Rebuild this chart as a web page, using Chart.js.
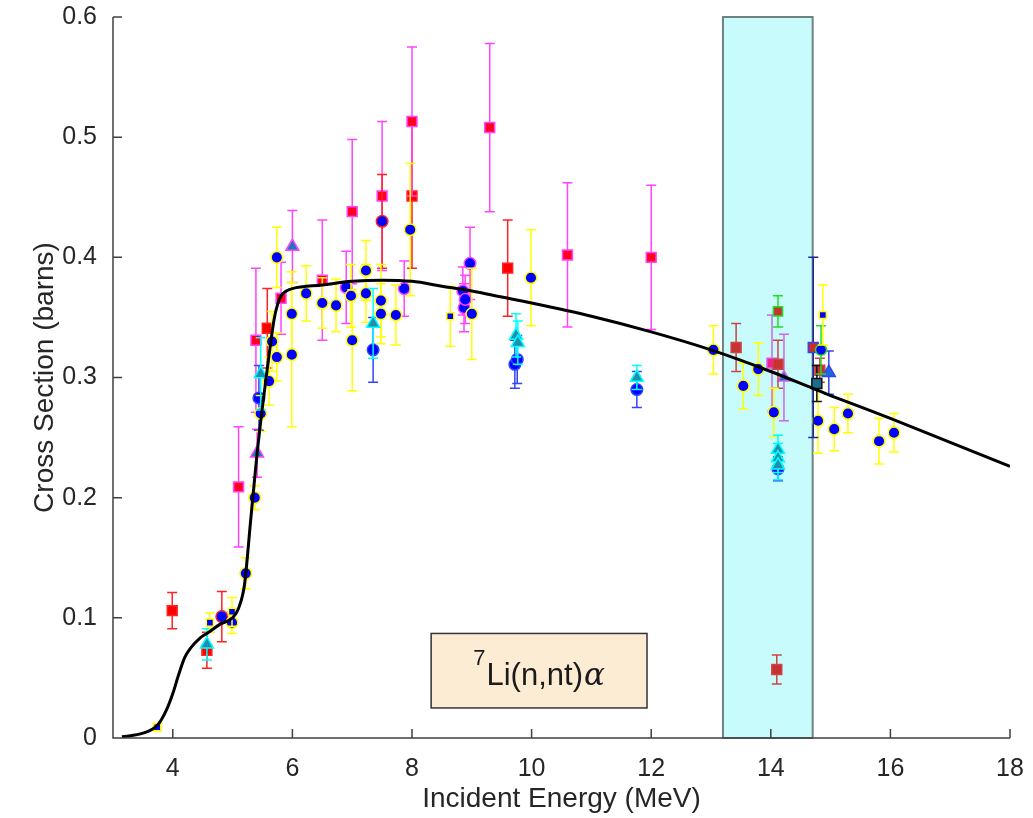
<!DOCTYPE html>
<html>
<head>
<meta charset="utf-8">
<script src="https://cdn.jsdelivr.net/npm/chart.js@4.4.1/dist/chart.umd.min.js"></script>
<style>
  html, body { margin: 0; padding: 0; background: #fff; }
  #wrap { width: 1033px; height: 818px; }
</style>
</head>
<body>
<div id="wrap"><canvas id="xsChart" width="1033" height="818"></canvas></div>
<script>
// axis ticks
const xTicks = [4, 6, 8, 10, 12, 14, 16, 18];
const yTicks = [0, 0.1, 0.2, 0.3, 0.4, 0.5, 0.6];
const bandRange = [13.2, 14.7];

// evaluated cross section (black curve)
const evalE = [3.15, 3.5, 3.75, 3.9, 4.0, 4.1, 4.2, 4.3, 4.45, 4.6, 4.8, 5.0, 5.1, 5.2, 5.3, 5.4, 5.5, 5.6, 5.7, 5.8, 5.9, 6.0, 6.5, 7.0, 7.5, 8.0, 8.5, 9.0, 9.5, 10, 11, 12, 13, 14, 14.7, 15, 16, 17, 18];
const evalXS = [0.001, 0.004, 0.011, 0.024, 0.037, 0.053, 0.067, 0.075, 0.083, 0.088, 0.095, 0.100, 0.108, 0.128, 0.180, 0.232, 0.276, 0.315, 0.350, 0.367, 0.372, 0.374, 0.377, 0.380, 0.381, 0.380, 0.376, 0.372, 0.367, 0.362, 0.351, 0.338, 0.323, 0.305, 0.291, 0.285, 0.266, 0.246, 0.226];

// measurements: energy, cross section, error half width
const redSqE = [3.99, 4.57, 5.58, 8.0, 9.6];
const redSqY = [0.106, 0.073, 0.341, 0.451, 0.391];
const redSqErr = [0.015, 0.015, 0.033, 0.06, 0.04];

const redCircE = [4.82, 7.5];
const redCircY = [0.101, 0.430];
const redCircErr = [0.021, 0.039];

const magSqE = [5.1, 5.39, 5.81, 6.5, 7.0, 7.5, 8.0, 9.3, 10.6, 12.0];
const magSqY = [0.209, 0.331, 0.366, 0.381, 0.438, 0.451, 0.513, 0.508, 0.402, 0.400];
const magSqErr = [0.05, 0.06, 0.03, 0.05, 0.06, 0.062, 0.062, 0.07, 0.06, 0.06];

const magCircE = [6.9, 7.87, 8.85, 8.87, 8.89, 8.97];
const magCircY = [0.375, 0.374, 0.372, 0.358, 0.365, 0.395];
const magCircErr = [0.03, 0.023, 0.02, 0.02, 0.02, 0.03];

const magTriE = [5.41, 6.0];
const magTriY = [0.237, 0.409];
const magTriErr = [0.02, 0.03];

const yelCircE = [4.99, 5.22, 5.37, 5.47, 5.61, 5.66, 5.74, 5.74, 5.99, 5.99, 6.23, 6.5, 6.73, 6.98, 7.0, 7.23, 7.23, 7.48, 7.48, 7.73, 7.97, 9.0, 9.99, 13.04, 13.54, 13.79, 14.05, 14.79, 15.06, 15.29, 15.81, 16.06];
const yelCircY = [0.096, 0.137, 0.200, 0.270, 0.297, 0.330, 0.317, 0.400, 0.353, 0.319, 0.370, 0.362, 0.360, 0.368, 0.331, 0.389, 0.370, 0.364, 0.353, 0.352, 0.423, 0.353, 0.383, 0.323, 0.293, 0.307, 0.271, 0.264, 0.257, 0.270, 0.247, 0.254];
const yelCircErr = [0.009, 0.013, 0.010, 0.015, 0.020, 0.025, 0.020, 0.025, 0.035, 0.060, 0.023, 0.021, 0.022, 0.026, 0.042, 0.025, 0.024, 0.030, 0.025, 0.025, 0.055, 0.038, 0.040, 0.020, 0.019, 0.022, 0.020, 0.027, 0.018, 0.016, 0.019, 0.016];

const yelSqE = [3.74, 4.62, 4.99, 8.64, 14.87];
const yelSqY = [0.009, 0.096, 0.105, 0.351, 0.352];
const yelSqErr = [0.003, 0.008, 0.012, 0.025, 0.025];

const cyanTriE = [4.57, 5.47, 7.35, 9.74, 9.77, 11.76, 14.12, 14.12, 14.12];
const cyanTriY = [0.078, 0.303, 0.345, 0.335, 0.329, 0.300, 0.240, 0.233, 0.227];
const cyanTriErr = [0.013, 0.03, 0.029, 0.018, 0.018, 0.01, 0.012, 0.012, 0.012];

const bluCircE = [5.44, 7.35, 9.72, 9.76, 11.76, 14.12];
const bluCircY = [0.283, 0.323, 0.311, 0.315, 0.290, 0.224];
const bluCircErr = [0.027, 0.027, 0.02, 0.02, 0.015, 0.01];

const brickSqE = [13.42, 14.12, 14.1, 14.82];
const brickSqY = [0.325, 0.311, 0.057, 0.306];
const brickSqErr = [0.02, 0.02, 0.012, 0.01];

const greenSqE = [14.12];
const greenSqY = [0.355];
const greenSqErr = [0.013];

const greenCircE = [14.84];
const greenCircY = [0.323];
const greenCircErr = [0.02];

const lilacSqE = [14.02];
const lilacSqY = [0.312];
const lilacSqErr = [0.04];

const lilacTriE = [14.22];
const lilacTriY = [0.300];
const lilacTriErr = [0.036];

const navySqE = [14.71];
const navySqY = [0.325];
const navySqErr = [0.075];

const blackSqE = [14.77];
const blackSqY = [0.295];
const blackSqErr = [0.015];

const bluTriE = [14.97];
const bluTriY = [0.304];
const bluTriErr = [0.018];

function pts(xs, ys) {
  return xs.map((x, i) => ({ x: x, y: ys[i] }));
}

function series(xs, ys, err, barColor, style, fill, edge, radius) {
  return {
    data: pts(xs, ys),
    err: err,
    barColor: barColor,
    showLine: false,
    pointStyle: style,
    pointRadius: radius,
    pointBackgroundColor: fill,
    pointBorderColor: edge,
    pointBorderWidth: 1.5,
    backgroundColor: fill,
    borderColor: edge,
    order: 1
  };
}

// vertical error bars with caps, drawn just before each dataset's markers
const errorBars = {
  id: 'errorBars',
  beforeDatasetDraw(chart, args) {
    const ds = chart.data.datasets[args.index];
    if (!ds.err) return;
    const ctx = chart.ctx, xs = chart.scales.x, ys = chart.scales.y;
    ctx.save();
    ctx.strokeStyle = ds.barColor;
    ctx.lineWidth = 1.5;
    ds.data.forEach((p, i) => {
      const px = xs.getPixelForValue(p.x);
      const top = ys.getPixelForValue(p.y + ds.err[i]);
      const bot = ys.getPixelForValue(p.y - ds.err[i]);
      ctx.beginPath();
      ctx.moveTo(px, top); ctx.lineTo(px, bot);
      ctx.moveTo(px - 5, top); ctx.lineTo(px + 5, top);
      ctx.moveTo(px - 5, bot); ctx.lineTo(px + 5, bot);
      ctx.stroke();
    });
    ctx.restore();
  }
};

// 14 MeV band, axes with inward ticks, reaction label
const decorations = {
  id: 'decorations',
  beforeDatasetsDraw(chart) {
    const ctx = chart.ctx, a = chart.chartArea, xs = chart.scales.x;
    const x0 = xs.getPixelForValue(bandRange[0]);
    const x1 = xs.getPixelForValue(bandRange[1]);
    ctx.save();
    ctx.fillStyle = '#c8fcfc';
    ctx.fillRect(x0, a.top, x1 - x0, a.bottom - a.top);
    ctx.strokeStyle = '#6e8282';
    ctx.lineWidth = 2;
    ctx.strokeRect(x0, a.top, x1 - x0, a.bottom - a.top);
    ctx.restore();
  },
  afterDatasetsDraw(chart) {
    const ctx = chart.ctx, a = chart.chartArea, xs = chart.scales.x, ys = chart.scales.y;
    ctx.save();
    // axes
    ctx.strokeStyle = '#404040';
    ctx.lineWidth = 1.5;
    ctx.beginPath();
    ctx.moveTo(a.left, a.top); ctx.lineTo(a.left, a.bottom); ctx.lineTo(a.right, a.bottom);
    xTicks.forEach(v => {
      const px = xs.getPixelForValue(v);
      ctx.moveTo(px, a.bottom); ctx.lineTo(px, a.bottom - 9);
    });
    yTicks.forEach(v => {
      const py = ys.getPixelForValue(v);
      ctx.moveTo(a.left, py); ctx.lineTo(a.left + 9, py);
    });
    ctx.stroke();

    // reaction label box
    const bx0 = xs.getPixelForValue(8.32), bx1 = xs.getPixelForValue(11.93);
    const by0 = ys.getPixelForValue(0.087), by1 = ys.getPixelForValue(0.025);
    ctx.fillStyle = '#fdecd4';
    ctx.fillRect(bx0, by0, bx1 - bx0, by1 - by0);
    ctx.strokeStyle = '#333333';
    ctx.lineWidth = 1.5;
    ctx.strokeRect(bx0, by0, bx1 - bx0, by1 - by0);

    const sup = '7', main = 'Li(n,nt)', greek = '\u03b1';
    const supFont = '22px "Liberation Sans", Arial, sans-serif';
    const mainFont = '31px "Liberation Sans", Arial, sans-serif';
    const greekFont = 'italic 31px "DejaVu Serif", "Liberation Serif", serif';
    ctx.font = supFont; const w1 = ctx.measureText(sup).width;
    ctx.font = mainFont; const w2 = ctx.measureText(main).width;
    ctx.font = greekFont; const w3 = ctx.measureText(greek).width;
    let tx = (bx0 + bx1) / 2 - (w1 + w2 + w3 + 2) / 2;
    const base = by0 + (by1 - by0) / 2 + 14;
    ctx.fillStyle = '#1a1a1a';
    ctx.textBaseline = 'alphabetic';
    ctx.textAlign = 'left';
    ctx.font = supFont; ctx.fillText(sup, tx, base - 20); tx += w1 + 1;
    ctx.font = mainFont; ctx.fillText(main, tx, base); tx += w2 + 1;
    ctx.font = greekFont; ctx.fillText(greek, tx, base);
    ctx.restore();
  }
};

const datasets = [
  {
    data: pts(evalE, evalXS),
    showLine: true,
    borderColor: '#000000',
    borderWidth: 3,
    pointRadius: 0,
    cubicInterpolationMode: 'monotone',
    order: 0
  },
  series(yelSqE, yelSqY, yelSqErr, '#ffff00', 'rect', '#0000ff', '#ffff00', 5),
  series(greenCircE, greenCircY, greenCircErr, '#22dd22', 'circle', '#0000ff', '#22dd22', 5.5),
  series(bluTriE, bluTriY, bluTriErr, '#3344ee', 'triangle', '#2266dd', '#3344ee', 7.5),
  series(blackSqE, blackSqY, blackSqErr, '#111111', 'rect', '#1a6f8f', '#111111', 7),
  series(navySqE, navySqY, navySqErr, '#1a2a9a', 'rect', '#d02a2a', '#3344ee', 7),
  series(cyanTriE, cyanTriY, cyanTriErr, '#00ffff', 'triangle', '#1f8fb0', '#00ffff', 7.5),
  series(yelCircE, yelCircY, yelCircErr, '#ffff00', 'circle', '#0000ff', '#ffff00', 5.8),
  series(bluCircE, bluCircY, bluCircErr, '#3344ff', 'circle', '#0000ff', '#3344ff', 5.8),
  series(magCircE, magCircY, magCircErr, '#ff44ff', 'circle', '#0000ff', '#ff44ff', 5.8),
  series(magTriE, magTriY, magTriErr, '#ff44ff', 'triangle', '#2277bb', '#ff44ff', 7.5),
  series(redCircE, redCircY, redCircErr, '#ff2222', 'circle', '#0000ff', '#ff2222', 5.8),
  series(greenSqE, greenSqY, greenSqErr, '#22dd22', 'rect', '#c83232', '#22dd22', 6.5),
  series(brickSqE, brickSqY, brickSqErr, '#cc4444', 'rect', '#c83232', '#cc4444', 7),
  series(lilacTriE, lilacTriY, lilacTriErr, '#cc66ee', 'triangle', '#3366cc', '#cc66ee', 7),
  series(lilacSqE, lilacSqY, lilacSqErr, '#cc66ee', 'rect', '#ee2288', '#dd55ee', 7),
  series(magSqE, magSqY, magSqErr, '#ff44ff', 'rect', '#ff0022', '#ff44ff', 7),
  series(redSqE, redSqY, redSqErr, '#ff2222', 'rect', '#ff0000', '#ff2222', 7)
];

const tickFont = { family: '"Liberation Sans", Arial, sans-serif', size: 25 };
const titleFont = { family: '"Liberation Sans", Arial, sans-serif', size: 28 };

new Chart(document.getElementById('xsChart').getContext('2d'), {
  type: 'scatter',
  data: { datasets: datasets },
  options: {
    responsive: false,
    animation: false,
    layout: { padding: { top: 17, right: 23, left: 28, bottom: 0 } },
    plugins: { legend: { display: false }, tooltip: { enabled: false } },
    scales: {
      x: {
        type: 'linear',
        min: 3,
        max: 18,
        grid: { display: false },
        border: { display: false },
        afterBuildTicks: s => { s.ticks = xTicks.map(v => ({ value: v })); },
        afterFit: s => { s.height = 80; s.paddingLeft = 0; s.paddingRight = 0; },
        ticks: { font: tickFont, color: '#262626', padding: 8, maxRotation: 0 },
        title: { display: true, text: 'Incident Energy (MeV)', font: titleFont, color: '#262626', padding: { top: 0, bottom: 2 } }
      },
      y: {
        type: 'linear',
        min: 0,
        max: 0.6,
        grid: { display: false },
        border: { display: false },
        afterBuildTicks: s => { s.ticks = yTicks.map(v => ({ value: v })); },
        afterFit: s => { s.width = 85; s.paddingTop = 0; s.paddingBottom = 0; },
        ticks: { font: tickFont, color: '#262626', padding: 8, callback: v => String(Math.round(v * 10) / 10) },
        title: { display: true, text: 'Cross Section (barns)', font: titleFont, color: '#262626', padding: { top: 0, bottom: 0 } }
      }
    }
  },
  plugins: [errorBars, decorations]
});
</script>
</body>
</html>
